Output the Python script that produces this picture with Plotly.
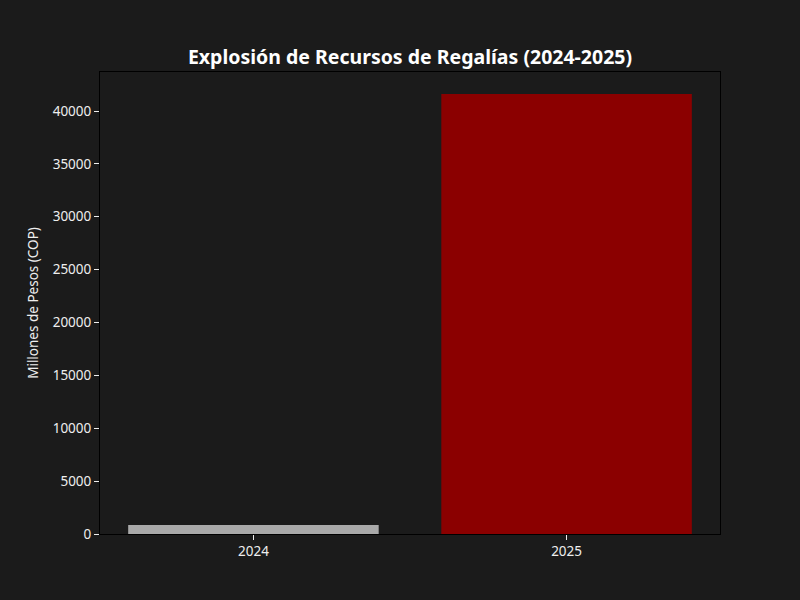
import plotly.graph_objects as go

years = ["2024", "2025"]
recursos = [850, 41608]
colores = ["#a9a9a9", "#8b0000"]

bg = "#1b1b1b"
txt = "#eeeeee"
font = "Noto Sans"

fig = go.Figure()
fig.add_trace(go.Bar(
    x=years,
    y=recursos,
    marker=dict(color=colores, line=dict(width=0)),
    width=0.8,
))

fig.update_layout(
    width=800, height=600,
    paper_bgcolor=bg, plot_bgcolor=bg,
    font=dict(family=font, color=txt, size=13.5),
    margin=dict(l=100, r=80, t=72, b=66),
    showlegend=False,
    title=dict(
        text="<b>Explosión de Recursos de Regalías (2024-2025)</b>",
        x=0.5, xref="paper", xanchor="center",
        y=1 - 57 / 600, yref="container", yanchor="middle",
        font=dict(family=font, size=19.5, color="#ffffff"),
    ),
)
fig.update_xaxes(
    range=[-0.49, 1.49],
    showline=True, linecolor="black", linewidth=1, mirror=True,
    ticks="outside", ticklen=5, tickcolor=txt, showgrid=False, zeroline=False,
    tickfont=dict(size=13.5, color=txt),
)
fig.update_yaxes(
    range=[0, 43688],
    tickvals=[0, 5000, 10000, 15000, 20000, 25000, 30000, 35000, 40000],
    ticktext=["0", "5000", "10000", "15000", "20000", "25000", "30000", "35000", "40000"],
    showline=True, linecolor="black", linewidth=1, mirror=True,
    ticks="outside", ticklen=5, tickcolor=txt, showgrid=False, zeroline=False,
    tickfont=dict(size=13.5, color=txt),
    title=dict(text="Millones de Pesos (COP)", font=dict(size=13.5, color=txt), standoff=10),
)

fig.write_html(
    "out.html",
    config={"displayModeBar": False},
    post_script="document.body.style.margin='0';document.body.style.background='#1b1b1b';",
)
